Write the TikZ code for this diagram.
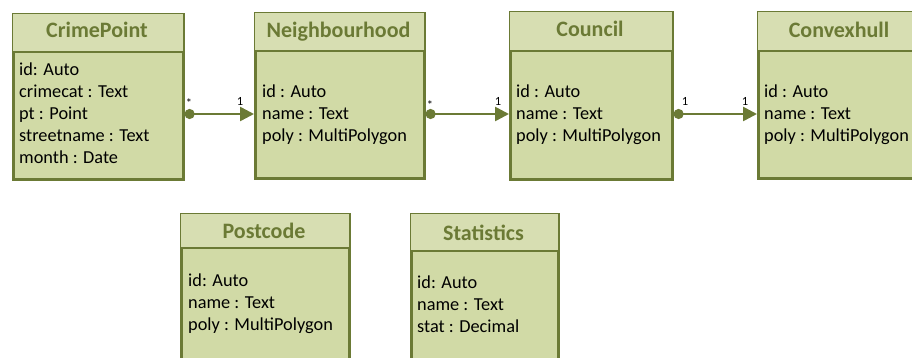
\documentclass[tikz,border=0pt]{standalone}
\usepackage{fontspec}
\setmainfont{Carlito}
\usetikzlibrary{arrows.meta}
\definecolor{olive}{HTML}{6B7A35}
\definecolor{boxfill}{HTML}{D1DAA6}
\definecolor{headfill}{HTML}{D7DEB2}
\definecolor{shadowc}{HTML}{E4E8D4}
\tikzset{
  classbox/.style={draw=olive, line width=2.6pt, fill=boxfill, rectangle, inner sep=0pt, anchor=north west},
  headline/.style={draw=olive, line width=2.6pt},
  title/.style={text=olive, font=\fontsize{22}{26}\selectfont\bfseries, anchor=base},
  body/.style={font=\fontsize{18.3}{22}\selectfont, align=left, anchor=north west, inner sep=0pt, text=black},
  assoc/.style={draw=olive, line width=2.6pt, {Circle[length=10pt]}-{Triangle[length=14pt,width=14pt]}},
  mult/.style={font=\fontsize{12.5}{14}\selectfont, text=black, inner sep=0pt}
}
\begin{document}
\begin{tikzpicture}[x=1pt,y=-1pt]
\useasboundingbox (0,0) rectangle (912,358);
% shadows
\foreach \x/\y/\w/\h in {12/13/170/165, 254/12/169/165, 509/11/162/167, 757/11/170/166, 180/213/168/160, 410/213/147/160}
  \fill[shadowc] (\x+3,\y+3) rectangle (\x+\w+3,\y+\h+3);
% boxes
\node[classbox, minimum width=170pt, minimum height=165pt] (crime) at (12,13) {};
\node[classbox, minimum width=169pt, minimum height=165pt] (neigh) at (254,12) {};
\node[classbox, minimum width=162pt, minimum height=167pt] (council) at (509,11) {};
\node[classbox, minimum width=170pt, minimum height=166pt] (convex) at (757,11) {};
\node[classbox, minimum width=168pt, minimum height=160pt] (post) at (180,213) {};
\node[classbox, minimum width=147pt, minimum height=160pt] (stat) at (410,213) {};
% header fills and lines
\foreach \n/\d in {crime/39, neigh/39, council/40, convex/40, post/35, stat/38}{
  \fill[headfill] ([xshift=1.3pt,yshift=-1.3pt]\n.north west) rectangle ([xshift=-1.3pt,yshift=-\d pt]\n.north east);
  \draw[headline] ([yshift=-\d pt]\n.north west) -- ([yshift=-\d pt]\n.north east);
}
% titles
\node[title] (crimeT) at (97,38) {CrimePoint};
\node[title] (neighT) at (338.5,38) {Neighbourhood};
\node[title] (councilT) at (590,37) {Council};
\node[title] (convexT) at (839,38) {Convexhull};
\node[title] (postT) at (264,238) {Postcode};
\node[title] (statT) at (483.5,240) {Statistics};
% bodies
\node[body] (crimeB) at (19,63) {id: Auto\\crimecat : Text\\pt : Point\\streetname : Text\\month : Date};
\node[body] (neighB) at (262,85) {id : Auto\\name : Text\\poly : MultiPolygon};
\node[body] (councilB) at (516,85) {id : Auto\\name : Text\\poly : MultiPolygon};
\node[body] (convexB) at (764,85) {id : Auto\\name : Text\\poly : MultiPolygon};
\node[body] (postB) at (188,274) {id: Auto\\name : Text\\poly : MultiPolygon};
\node[body] (statB) at (417,276) {id: Auto\\name : Text\\stat : Decimal};
% connectors
\coordinate (ay) at (0,114);
\draw[assoc] (crime.east |- ay) -- (neigh.west |- ay);
\draw[assoc] (neigh.east |- ay) -- (council.west |- ay);
\draw[assoc] (council.east |- ay) -- (convex.west |- ay);
% multiplicities
\node[mult] (m1) at (189,103) {*};
\node[mult] (m2) at (240,101) {1};
\node[mult] (m3) at (430,105) {*};
\node[mult] (m4) at (498,101) {1};
\node[mult] (m5) at (685,101) {1};
\node[mult] (m6) at (745,101) {1};
\end{tikzpicture}
\end{document}
